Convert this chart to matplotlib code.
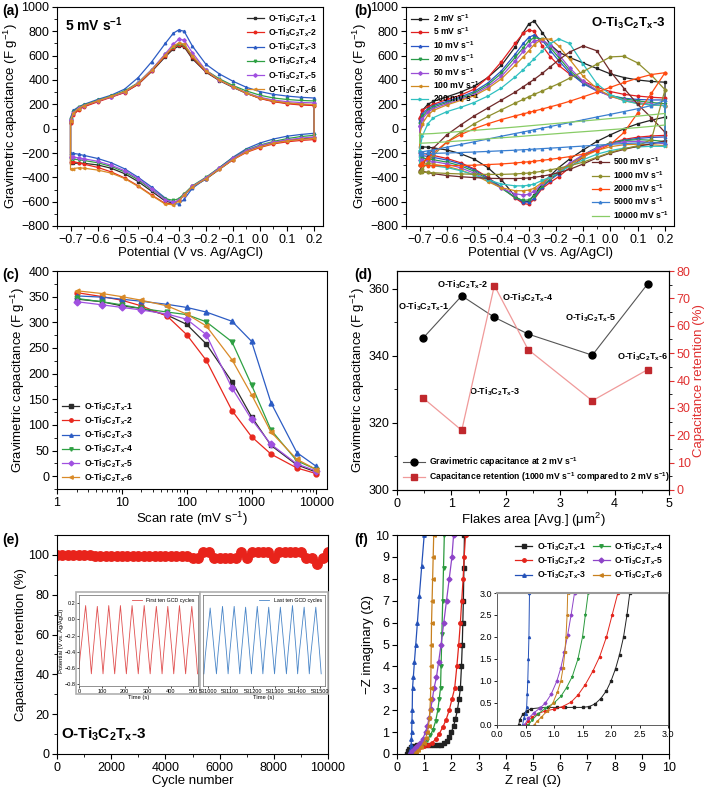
import matplotlib
matplotlib.use('Agg')
import matplotlib.pyplot as plt
from matplotlib.ticker import AutoMinorLocator, LogLocator, NullFormatter
from matplotlib.patches import Rectangle

plt.rcParams.update({
    'font.family': ['Liberation Sans', 'DejaVu Sans'],
    'mathtext.fontset': 'custom',
    'mathtext.rm': 'Liberation Sans',
    'mathtext.it': 'Liberation Sans:italic',
    'mathtext.bf': 'Liberation Sans:bold',
    'mathtext.default': 'regular',
    'xtick.direction': 'out', 'ytick.direction': 'out',
    'xtick.major.size': 3.5, 'ytick.major.size': 3.5,
    'xtick.minor.size': 2.0, 'ytick.minor.size': 2.0,
    'xtick.major.width': 0.8, 'ytick.major.width': 0.8,
    'xtick.minor.width': 0.6, 'ytick.minor.width': 0.6,
    'axes.linewidth': 0.8,
    'font.size': 9,
})

# ---------------- data ----------------
SAMPLES = [r'O-Ti$_\mathbf{3}$C$_\mathbf{2}$T$_\mathbf{x}$-1',
           r'O-Ti$_\mathbf{3}$C$_\mathbf{2}$T$_\mathbf{x}$-2',
           r'O-Ti$_\mathbf{3}$C$_\mathbf{2}$T$_\mathbf{x}$-3',
           r'O-Ti$_\mathbf{3}$C$_\mathbf{2}$T$_\mathbf{x}$-4',
           r'O-Ti$_\mathbf{3}$C$_\mathbf{2}$T$_\mathbf{x}$-5',
           r'O-Ti$_\mathbf{3}$C$_\mathbf{2}$T$_\mathbf{x}$-6']

# (a) CV at 5 mV/s, potential grid (V)
E_a = [-0.70, -0.69, -0.67, -0.65, -0.60, -0.55, -0.50, -0.45, -0.40, -0.35, -0.32, -0.30,
       -0.28, -0.25, -0.20, -0.15, -0.10, -0.05, 0.00, 0.05, 0.10, 0.15, 0.20]
a_up1 = [60, 120, 160, 185, 225, 262, 300, 365, 470, 590, 655, 678, 672, 575, 465, 395, 340, 290, 250, 225, 210, 200, 195]
a_lo1 = [-285, -285, -283, -285, -298, -325, -370, -435, -515, -595, -612, -590, -545, -480, -415, -335, -255, -185, -145, -115, -98, -85, -75]
a_up2 = [50, 110, 155, 180, 220, 258, 297, 365, 475, 600, 665, 688, 680, 585, 470, 400, 345, 292, 248, 222, 205, 195, 190]
a_lo2 = [-270, -272, -280, -292, -318, -355, -405, -470, -545, -615, -618, -585, -540, -475, -410, -330, -255, -195, -155, -125, -108, -97, -90]
a_up3 = [90, 150, 180, 200, 240, 275, 325, 420, 550, 700, 785, 812, 800, 680, 530, 450, 390, 340, 305, 282, 268, 258, 252]
a_lo3 = [-200, -203, -210, -220, -245, -280, -330, -400, -480, -570, -615, -620, -580, -490, -410, -320, -235, -165, -118, -85, -62, -48, -38]
a_up4 = [80, 140, 175, 195, 232, 268, 310, 378, 485, 610, 672, 695, 688, 595, 480, 410, 355, 310, 275, 252, 240, 232, 228]
a_lo4 = [-248, -250, -255, -262, -280, -310, -355, -420, -500, -575, -590, -575, -535, -470, -400, -320, -240, -175, -135, -105, -82, -65, -55]
a_up5 = [70, 130, 170, 190, 228, 262, 302, 375, 485, 615, 695, 735, 728, 625, 480, 400, 345, 295, 258, 235, 222, 215, 212]
a_lo5 = [-230, -233, -240, -248, -268, -300, -345, -410, -495, -585, -605, -590, -545, -475, -405, -325, -245, -180, -140, -112, -92, -78, -68]
a_up6 = [60, 125, 165, 190, 228, 265, 305, 372, 480, 605, 678, 705, 695, 600, 475, 400, 345, 292, 252, 228, 212, 203, 198]
a_lo6 = [-330, -328, -322, -325, -340, -365, -410, -475, -550, -620, -625, -595, -545, -478, -412, -333, -255, -190, -150, -120, -100, -88, -80]

# (b) CV of O-Ti3C2Tx-3 at different scan rates
E_b = [-0.70, -0.69, -0.67, -0.65, -0.60, -0.55, -0.50, -0.45, -0.40, -0.35, -0.32, -0.30,
       -0.28, -0.25, -0.22, -0.19, -0.15, -0.10, -0.05, 0.00, 0.05, 0.10, 0.15, 0.20]
b_rates = ['2', '5', '10', '20', '50', '100', '200', '500', '1000', '2000', '5000', '10000']
b_up2 = [80, 150, 200, 225, 262, 300, 348, 420, 520, 670, 790, 860, 885, 790, 690, 630, 585, 540, 495, 450, 420, 400, 388, 382]
b_lo2 = [-150, -150, -152, -158, -175, -205, -250, -320, -420, -555, -605, -595, -545, -455, -385, -320, -250, -175, -105, -50, 0, 40, 70, 95]
b_up5 = [90, 150, 180, 200, 240, 275, 325, 420, 550, 700, 785, 812, 800, 680, 590, 520, 450, 390, 340, 305, 282, 268, 258, 252]
b_lo5 = [-200, -203, -210, -220, -245, -280, -330, -400, -480, -570, -615, -622, -580, -490, -440, -395, -320, -235, -165, -118, -88, -70, -60, -55]
b_up10 = [60, 120, 165, 190, 225, 260, 305, 375, 475, 610, 700, 750, 770, 725, 640, 560, 460, 370, 310, 272, 250, 240, 236, 236]
b_lo10 = [-220, -222, -228, -236, -258, -290, -338, -405, -482, -565, -600, -605, -570, -480, -420, -370, -300, -225, -160, -120, -95, -80, -72, -68]
b_up20 = [40, 100, 150, 178, 215, 250, 292, 360, 455, 585, 665, 720, 748, 735, 665, 585, 480, 380, 315, 272, 245, 228, 215, 205]
b_lo20 = [-240, -242, -248, -255, -275, -305, -350, -415, -490, -565, -590, -585, -555, -470, -410, -360, -290, -215, -155, -118, -98, -90, -95, -105]
b_up50 = [20, 80, 135, 165, 205, 240, 280, 345, 430, 555, 635, 690, 722, 730, 685, 610, 500, 390, 315, 265, 235, 215, 200, 190]
b_lo50 = [-255, -257, -262, -270, -290, -322, -365, -425, -490, -535, -545, -540, -515, -450, -395, -350, -285, -215, -160, -125, -108, -105, -112, -125]
b_up100 = [-50, 40, 110, 150, 195, 232, 270, 330, 410, 520, 590, 640, 690, 740, 735, 680, 570, 430, 330, 268, 230, 208, 195, 188]
b_lo100 = [-280, -282, -286, -292, -310, -340, -380, -435, -485, -510, -510, -505, -490, -440, -395, -355, -295, -230, -180, -148, -132, -128, -132, -140]
b_up200 = [-180, -60, 40, 90, 140, 175, 215, 268, 335, 425, 485, 530, 575, 640, 700, 738, 700, 530, 370, 280, 230, 205, 195, 190]
b_lo200 = [-300, -300, -302, -305, -320, -345, -380, -420, -455, -470, -470, -465, -455, -425, -395, -360, -310, -255, -210, -180, -160, -150, -145, -145]
b_up500 = [-345, -300, -230, -160, -50, 30, 105, 170, 235, 300, 345, 375, 405, 455, 510, 565, 630, 680, 640, 470, 330, 200, 90, -30]
b_lo500 = [-345, -350, -360, -370, -385, -395, -402, -408, -410, -410, -408, -405, -400, -390, -378, -362, -335, -290, -240, -200, -170, -145, -125, -100]
b_up1000 = [-355, -330, -280, -220, -110, -30, 40, 100, 155, 210, 240, 262, 282, 310, 340, 370, 415, 470, 530, 590, 595, 540, 440, 320]
b_lo1000 = [-355, -357, -360, -362, -368, -372, -375, -376, -376, -372, -368, -365, -360, -350, -338, -325, -305, -275, -235, -195, -165, -140, -90, 320]
b_up2000 = [-300, -280, -240, -200, -110, -50, 0, 40, 75, 105, 122, 133, 145, 162, 180, 198, 225, 262, 300, 340, 380, 415, 445, 460]
b_lo2000 = [-300, -302, -303, -305, -305, -303, -300, -295, -290, -282, -276, -272, -268, -260, -252, -243, -230, -210, -180, -130, -30, 130, 290, 460]
b_up5000 = [-195, -190, -182, -175, -152, -130, -108, -85, -62, -40, -27, -18, -9, 5, 18, 32, 50, 73, 96, 118, 141, 164, 190, 233]
b_lo5000 = [-205, -205, -204, -203, -200, -196, -192, -187, -182, -177, -173, -171, -168, -164, -160, -156, -150, -143, -136, -129, -122, -118, -116, -115]
b_up10000 = [-45, -44, -42, -40, -32, -23, -14, -5, 4, 13, 19, 23, 27, 33, 39, 45, 53, 63, 73, 83, 93, 103, 114, 125]
b_lo10000 = [-120, -119, -117, -115, -108, -100, -92, -84, -75, -67, -62, -58, -55, -50, -45, -40, -33, -25, -17, -8, 0, 9, 19, 30]

# (c) rate capability
scan_rate = [2, 5, 10, 20, 50, 100, 200, 500, 1000, 2000, 5000, 10000]
c_cap1 = [345.3, 340, 332, 327, 314, 296, 258, 184, 116, 60, 22, 8]
c_cap2 = [357.9, 350, 343, 332, 312, 276, 226, 128, 77, 43, 16, 5]
c_cap3 = [351.5, 349, 345, 341, 335, 329, 320, 302, 263, 143, 46, 19]
c_cap4 = [346.5, 340, 334, 327, 320, 315, 301, 262, 178, 90, 30, 13]
c_cap5 = [340.2, 334, 329, 324, 316, 306, 276, 172, 111, 62, 24, 10]
c_cap6 = [361.5, 356, 350, 343, 332, 316, 293, 227, 159, 86, 33, 13]

# (d) flake area relation
flake_area = [0.48, 1.19, 1.79, 2.41, 3.59, 4.61]
cap_2mV = [345.3, 357.9, 351.5, 346.5, 340.2, 361.5]
retention_1000 = [33.6, 21.8, 74.7, 51.3, 32.6, 44.0]

# (e) cycling stability
cycle_number = list(range(0, 10001, 200))
cycle_retention = [100.0, 100.0, 100.0, 100.0, 100.0, 100.0, 100.0,
                   99.6, 99.6, 99.6, 99.6, 99.6, 99.6, 99.6, 99.6, 99.6,
                   99.6, 99.6, 99.6, 99.6, 99.6, 99.6, 99.6, 99.6, 99.6,
                   98.3, 98.3, 101.3, 101.3, 98.3, 98.3, 98.3, 98.3, 98.3,
                   101.3, 98.3, 101.3, 101.3, 101.3, 101.3, 98.3,
                   101.3, 101.3, 101.3, 101.3, 101.3, 98.3, 98.3, 95.3, 98.3, 101.3]
gcd_first_t = [0, 5, 29, 48, 54, 60, 80, 99, 105, 111, 130, 149, 156, 162, 181, 200, 207, 213,
               232, 252, 259, 265, 285, 304, 311, 317, 338, 357, 363, 369, 388, 408, 414, 420,
               439, 459, 466, 472, 493, 512, 518]
gcd_first_v = [-0.60, -0.45, 0.17, -0.45, -0.67, -0.45, 0.16, -0.45, -0.67, -0.45, 0.17, -0.45,
               -0.67, -0.45, 0.17, -0.45, -0.67, -0.45, 0.17, -0.45, -0.67, -0.45, 0.17, -0.45,
               -0.67, -0.45, 0.16, -0.45, -0.67, -0.45, 0.16, -0.45, -0.67, -0.45, 0.17, -0.45,
               -0.67, -0.45, 0.16, -0.45, -0.67]
gcd_last_t = [530982, 530988, 531010, 531030, 531038, 531044, 531065, 531084, 531090, 531096,
              531117, 531136, 531142, 531148, 531168, 531187, 531194, 531200, 531220, 531239,
              531245, 531251, 531271, 531290, 531297, 531303, 531323, 531343, 531350, 531356,
              531377, 531395, 531400, 531406, 531429, 531447, 531452, 531458, 531481, 531499, 531505]
gcd_last_v = [-0.67, -0.45, 0.14, -0.45, -0.67, -0.45, 0.16, -0.45, -0.67, -0.45, 0.16, -0.45,
              -0.67, -0.45, 0.15, -0.45, -0.67, -0.45, 0.16, -0.45, -0.67, -0.45, 0.15, -0.45,
              -0.67, -0.45, 0.15, -0.45, -0.67, -0.45, 0.17, -0.45, -0.67, -0.45, 0.15, -0.45,
              -0.67, -0.45, 0.15, -0.45, -0.67]

# (f) Nyquist plots
f_x1 = [0.38, 0.40, 0.45, 0.52, 0.60, 0.75, 0.90, 1.05, 1.20, 1.35, 1.50, 1.62, 1.72, 1.82, 1.92,
        2.00, 2.08, 2.15, 2.22, 2.28, 2.33, 2.37, 2.40, 2.42, 2.44, 2.46, 2.48]
f_y1 = [0.00, 0.12, 0.24, 0.32, 0.37, 0.39, 0.40, 0.40, 0.40, 0.40, 0.40, 0.42, 0.48, 0.60, 0.78,
        1.00, 1.28, 1.60, 2.00, 2.50, 3.00, 4.00, 5.00, 6.00, 7.00, 8.50, 10.0]
f_x2 = [0.50, 0.55, 0.62, 0.72, 0.85, 1.00, 1.15, 1.30, 1.42, 1.55, 1.68, 1.80, 1.92, 2.02, 2.12,
        2.20, 2.27, 2.33, 2.38, 2.43, 2.47, 2.52]
f_y2 = [0.00, 0.10, 0.18, 0.26, 0.32, 0.36, 0.42, 0.52, 0.68, 0.92, 1.22, 1.55, 2.00, 2.50, 3.00,
        4.00, 5.00, 6.00, 7.00, 8.00, 9.00, 10.0]
f_x3 = [0.45, 0.47, 0.50, 0.52, 0.53, 0.54, 0.55, 0.56, 0.57, 0.60, 0.64, 0.69, 0.75, 0.82, 0.91, 1.00]
f_y3 = [0.00, 0.15, 0.25, 0.40, 0.70, 1.00, 1.50, 2.00, 3.00, 3.50, 4.20, 5.00, 6.00, 7.20, 8.60, 10.0]
f_x4 = [0.55, 0.62, 0.72, 0.85, 1.00, 1.12, 1.22, 1.32, 1.42, 1.50, 1.55, 1.60, 1.62, 1.65, 1.68, 1.71, 1.74]
f_y4 = [0.00, 0.12, 0.25, 0.38, 0.50, 0.65, 0.85, 1.10, 1.50, 2.00, 2.50, 3.00, 4.00, 5.50, 7.00, 8.50, 10.0]
f_x5 = [0.48, 0.55, 0.65, 0.75, 0.85, 0.95, 1.05, 1.12, 1.18, 1.24, 1.30, 1.36, 1.45, 1.53, 1.62,
        1.72, 1.82, 1.92, 2.02, 2.08]
f_y5 = [0.00, 0.15, 0.28, 0.38, 0.50, 0.70, 1.00, 1.30, 1.65, 2.05, 2.50, 3.00, 3.50, 4.20, 5.00,
        6.00, 7.00, 8.00, 9.00, 10.0]
f_x6 = [0.65, 0.70, 0.78, 0.88, 0.98, 1.06, 1.12, 1.16, 1.19, 1.21, 1.23, 1.24, 1.25, 1.26, 1.27,
        1.29, 1.31, 1.33, 1.35]
f_y6 = [0.00, 0.08, 0.18, 0.32, 0.50, 0.75, 1.00, 1.30, 1.65, 2.00, 2.50, 3.00, 4.00, 5.00, 6.00,
        7.00, 8.00, 9.00, 10.0]

# ---------------- styles ----------------
S_COLORS = ['#2b2b2b', '#e8281e', '#2c5cc4', '#2ea043', '#a050e0', '#d98a28']
S_MARKERS = ['s', 'o', '^', 'v', 'D', '<']
B_COLORS = ['#222222', '#e02020', '#2a56c6', '#2a9a4a', '#9b4fd6', '#d08a20', '#30c0c0',
            '#6e2a2a', '#8f8f2e', '#ff4a10', '#3a7fd0', '#88cc66']
B_MARKERS = ['s', 'o', '^', 'v', 'D', '<', '>', 's', 'o', 'o', '^', None]

W, H = 708, 789
fig = plt.figure(figsize=(W / 100, H / 100), dpi=100)


def box(l, t, r, b):
    return [l / W, 1 - b / H, (r - l) / W, (b - t) / H]


def style(ax, xminor=2, yminor=2):
    ax.tick_params(labelsize=9, pad=2)
    if xminor:
        ax.xaxis.set_minor_locator(AutoMinorLocator(xminor))
    if yminor:
        ax.yaxis.set_minor_locator(AutoMinorLocator(yminor))


LEG = dict(frameon=False, prop={'weight': 'bold', 'size': 6.2}, numpoints=1,
           handlelength=2.0, handletextpad=0.5, labelspacing=0.2, borderaxespad=0.3)
YCAP = r'Gravimetric capacitance (F g$^{-1}$)'


def loop(E, up, lo):
    return E + E[::-1] + [E[0]], up + lo[::-1] + [up[0]]


# ---------------- (a) ----------------
ax = fig.add_axes(box(57, 7, 323, 226))
a_up = [a_up1, a_up2, a_up3, a_up4, a_up5, a_up6]
a_lo = [a_lo1, a_lo2, a_lo3, a_lo4, a_lo5, a_lo6]
for i in range(6):
    x, y = loop(E_a, a_up[i], a_lo[i])
    ax.plot(x, y, color=S_COLORS[i], marker=S_MARKERS[i], ms=1.8, lw=0.9, label=SAMPLES[i])
ax.set_xlim(-0.75, 0.233)
ax.set_ylim(-800, 1000)
ax.set_xticks([-0.7, -0.6, -0.5, -0.4, -0.3, -0.2, -0.1, 0.0, 0.1, 0.2])
ax.set_yticks(range(-800, 1001, 200))
style(ax)
ax.set_xlabel('Potential (V vs. Ag/AgCl)', fontsize=9.5, labelpad=1)
ax.set_ylabel(YCAP, fontsize=9.5, labelpad=1)
ax.legend(loc='upper right', **dict(LEG, borderaxespad=0.2))
ax.text(0.03, 0.96, r'5 mV s$^\mathbf{-1}$', transform=ax.transAxes, fontsize=10,
        weight='bold', va='top', ha='left')

# ---------------- (b) ----------------
ax = fig.add_axes(box(406, 7, 674, 226))
b_up = [b_up2, b_up5, b_up10, b_up20, b_up50, b_up100, b_up200, b_up500, b_up1000, b_up2000,
        b_up5000, b_up10000]
b_lo = [b_lo2, b_lo5, b_lo10, b_lo20, b_lo50, b_lo100, b_lo200, b_lo500, b_lo1000, b_lo2000,
        b_lo5000, b_lo10000]
lines_b = []
for i in range(12):
    x, y = loop(E_b, b_up[i], b_lo[i])
    ln, = ax.plot(x, y, color=B_COLORS[i], marker=B_MARKERS[i], ms=1.8, lw=0.9,
                  label=b_rates[i] + r' mV s$^\mathbf{-1}$')
    lines_b.append(ln)
ax.set_xlim(-0.75, 0.233)
ax.set_ylim(-800, 1000)
ax.set_xticks([-0.7, -0.6, -0.5, -0.4, -0.3, -0.2, -0.1, 0.0, 0.1, 0.2])
ax.set_yticks(range(-800, 1001, 200))
style(ax)
ax.set_xlabel('Potential (V vs. Ag/AgCl)', fontsize=9.5, labelpad=1)
ax.set_ylabel(YCAP, fontsize=9.5, labelpad=1)
leg1 = ax.legend(handles=lines_b[:7], loc='upper left', **dict(LEG, borderaxespad=0.2))
ax.add_artist(leg1)
ax.legend(handles=lines_b[7:], loc='lower right', **dict(LEG, borderaxespad=0.2))
ax.text(0.97, 0.96, SAMPLES[2], transform=ax.transAxes, fontsize=9.5, weight='bold',
        va='top', ha='right')

# ---------------- (c) ----------------
ax = fig.add_axes(box(57, 271, 327, 489))
c_caps = [c_cap1, c_cap2, c_cap3, c_cap4, c_cap5, c_cap6]
for i in range(6):
    ax.plot(scan_rate, c_caps[i], color=S_COLORS[i], marker=S_MARKERS[i], ms=3.5, lw=0.9,
            label=SAMPLES[i])
ax.set_xscale('log')
ax.set_xlim(1, 14600)
ax.set_ylim(-25, 400)
ax.set_xticks([1, 10, 100, 1000, 10000])
ax.set_xticklabels(['1', '10', '100', '1000', '10000'])
ax.xaxis.set_minor_locator(LogLocator(base=10, subs=range(2, 10)))
ax.xaxis.set_minor_formatter(NullFormatter())
ax.set_yticks(range(0, 401, 50))
style(ax, xminor=None, yminor=2)
ax.set_xlabel(r'Scan rate (mV s$^{-1}$)', fontsize=9.5, labelpad=1)
ax.set_ylabel(YCAP, fontsize=9.5, labelpad=1)
ax.legend(loc='lower left', **dict(LEG, markerscale=0.7, borderaxespad=0.2))

# ---------------- (d) ----------------
ax = fig.add_axes(box(397, 271, 669, 490))
h1, = ax.plot(flake_area, cap_2mV, color='#555555', lw=0.8, marker='o', ms=5,
              mfc='black', mec='black',
              label=r'Gravimetric capacitance at 2 mV s$^\mathbf{-1}$')
ax.set_xlim(0, 5)
ax.set_ylim(300, 365.3)
ax.set_yticks([300, 320, 340, 360])
ax.set_xticks(range(0, 6))
style(ax)
ax.set_xlabel(r'Flakes area [Avg.] (μm$^2$)', fontsize=9.5, labelpad=1)
ax.set_ylabel(YCAP, fontsize=9.5, labelpad=1)
ax2 = ax.twinx()
h2, = ax2.plot(flake_area, retention_1000, color='#f09a9a', lw=0.9, marker='s', ms=5,
               mfc='#c0282d', mec='#c0282d',
               label=r'Capacitance retention (1000 mV s$^\mathbf{-1}$ compared to 2 mV s$^\mathbf{-1}$)')
ax2.set_ylim(0, 80)
ax2.set_yticks(range(0, 81, 10))
ax2.yaxis.set_minor_locator(AutoMinorLocator(2))
ax2.tick_params(axis='y', colors='#e03030', labelsize=9, pad=2)
ax2.set_ylabel('Capacitance retention (%)', color='#e03030', fontsize=9.5, labelpad=2)
d_label_pos = [(0.49, 354.5), (1.20, 361.3), (1.79, 329.2), (2.41, 357.2), (3.56, 351.5), (4.51, 339.6)]
for lab, (tx, ty) in zip(SAMPLES, d_label_pos):
    ax.text(tx, ty, lab, fontsize=6.5, weight='bold', ha='center', va='center')
ax.legend(handles=[h1, h2], loc='lower left', **dict(LEG, handlelength=2.5))

# ---------------- (e) ----------------
ax = fig.add_axes(box(57, 535, 328, 754))
ax.plot(cycle_number, cycle_retention, 'o', color='#e8231b', ms=6.8, mec='#e8231b')
ax.set_xlim(0, 10000)
ax.set_ylim(0, 110)
ax.set_xticks(range(0, 10001, 2000))
ax.set_yticks(range(0, 101, 20))
style(ax)
ax.set_xlabel('Cycle number', fontsize=9.5, labelpad=1)
ax.set_ylabel('Capacitance retention (%)', fontsize=9.5, labelpad=1)
ax.text(0.015, 0.05, SAMPLES[2], transform=ax.transAxes, fontsize=11, weight='bold',
        va='bottom', ha='left')

for (l, t, r, b) in [(76, 592, 200, 694), (200, 592, 328, 694)]:
    fig.patches.append(Rectangle((l / W, 1 - b / H), (r - l) / W, (b - t) / H,
                                 transform=fig.transFigure, fill=True, facecolor='white',
                                 edgecolor='#b0b0b0', lw=1.2, zorder=1))

INS = dict(labelsize=4, length=1.5, width=0.5, pad=1)
axi = fig.add_axes(box(79, 595, 198, 686))
axi.set_zorder(3)
axi.plot(gcd_first_t, gcd_first_v, color='#e05050', lw=0.6, label='First ten GCD cycles')
axi.set_xlim(0, 520)
axi.set_ylim(-0.82, 0.3)
axi.set_xticks(range(0, 501, 100))
axi.set_yticks([-0.8, -0.6, -0.4, -0.2, 0.0, 0.2])
axi.tick_params(**INS)
for s in axi.spines.values():
    s.set_linewidth(0.5)
    s.set_color('#666666')
axi.set_xlabel('Time (s)', fontsize=4.2, labelpad=0.5)
axi.set_ylabel('Potential (V vs. Ag/AgCl)', fontsize=4.2, labelpad=0.5)
axi.legend(loc='upper right', frameon=False, fontsize=3.8, handlelength=2, borderaxespad=0.2)

axj = fig.add_axes(box(203, 595, 325, 686))
axj.set_zorder(3)
axj.plot(gcd_last_t, gcd_last_v, color='#4a86c8', lw=0.6, label='Last ten GCD cycles')
axj.set_xlim(530978, 531522)
axj.set_ylim(-0.82, 0.3)
axj.set_xticks(range(531000, 531501, 100))
axj.set_yticks([])
axj.tick_params(**INS)
for s in axj.spines.values():
    s.set_linewidth(0.5)
    s.set_color('#666666')
axj.set_xlabel('Time (s)', fontsize=4.2, labelpad=0.5)
axj.legend(loc='upper right', frameon=False, fontsize=3.8, handlelength=2, borderaxespad=0.2)

# ---------------- (f) ----------------
ax = fig.add_axes(box(397, 535, 669, 754))
f_x = [f_x1, f_x2, f_x3, f_x4, f_x5, f_x6]
f_y = [f_y1, f_y2, f_y3, f_y4, f_y5, f_y6]
F_COLORS = ['#222222', '#e3241b', '#2451b8', '#2b9a3e', '#8e44c8', '#c8801e']
for i in range(6):
    ax.plot(f_x[i], f_y[i], color=F_COLORS[i], marker=S_MARKERS[i], ms=2.5, lw=0.9,
            label=SAMPLES[i])
ax.set_xlim(0, 10)
ax.set_ylim(0, 10)
ax.set_xticks(range(0, 11))
ax.set_yticks(range(0, 11))
style(ax, xminor=None, yminor=None)
ax.set_xlabel('Z real (Ω)', fontsize=9.5, labelpad=1)
ax.set_ylabel('−Z imaginary (Ω)', fontsize=9.5, labelpad=1)
ax.legend(loc='upper right', ncol=2, columnspacing=0.8, **dict(LEG, borderaxespad=0.2))

axf = fig.add_axes(box(497, 593, 668, 725))
axf.set_zorder(3)
for i in range(6):
    axf.plot(f_x[i], f_y[i], color=F_COLORS[i], marker=S_MARKERS[i], ms=1.5, lw=0.7)
axf.set_xlim(0, 3)
axf.set_ylim(0, 3)
axf.set_xticks([0, 0.5, 1.0, 1.5, 2.0, 2.5, 3.0])
axf.set_yticks([0, 0.5, 1.0, 1.5, 2.0, 2.5, 3.0])
axf.tick_params(labelsize=6.5, length=2, width=0.6, pad=1.5)
for s in axf.spines.values():
    s.set_linewidth(0.6)
    s.set_color('#444444')
axf.spines['top'].set_color('#999999')
axf.spines['top'].set_linewidth(1.5)

# ---------------- panel labels ----------------
for lab, px, py in [('(a)', 2, 4), ('(b)', 354, 4), ('(c)', 2, 268), ('(d)', 354, 268),
                    ('(e)', 2, 533), ('(f)', 354, 533)]:
    fig.text(px / W, 1 - py / H, lab, fontsize=10, weight='bold', va='top', ha='left')

fig.savefig('out.png', dpi=100)
